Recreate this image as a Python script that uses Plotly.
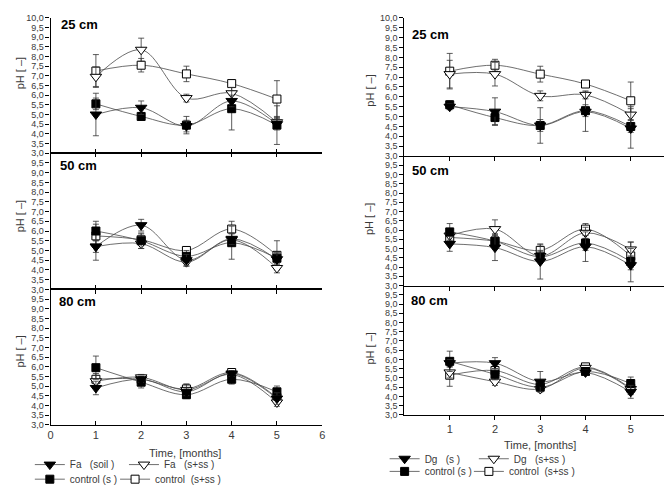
import plotly.graph_objects as go

W, H = 672, 486

months = [1, 2, 3, 4, 5]

# ---- left column (Fa) ----
fa_soil_25 = [5.0, 5.35, 4.4, 5.7, 4.5]
fa_soil_25_err = [1.1, 0.35, 0.3, 0.3, 0.3]
fa_ss_25 = [6.95, 8.35, 5.85, 6.1, 4.6]
fa_ss_25_err = [0.5, 0.6, 0.2, 0.3, 0.3]
ctrl_s_25 = [5.55, 4.9, 4.45, 5.3, 4.45]
ctrl_s_25_err = [0.3, 0.2, 0.45, 1.1, 1.0]
ctrl_ss_25 = [7.25, 7.55, 7.1, 6.6, 5.8]
ctrl_ss_25_err = [0.85, 0.35, 0.4, 0.15, 0.95]

fa_soil_50 = [5.2, 6.3, 4.5, 5.6, 4.55]
fa_soil_50_err = [0.3, 0.3, 0.3, 0.3, 0.3]
fa_ss_50 = [5.2, 5.35, 4.4, 5.55, 4.1]
fa_ss_50_err = [0.7, 0.25, 0.2, 0.3, 0.25]
ctrl_s_50 = [6.0, 5.5, 4.7, 5.4, 4.6]
ctrl_s_50_err = [0.5, 0.4, 0.3, 0.85, 0.3]
ctrl_ss_50 = [5.75, 5.55, 5.0, 6.1, 4.75]
ctrl_ss_50_err = [0.6, 0.3, 0.2, 0.4, 0.75]

fa_soil_80 = [4.9, 5.35, 4.7, 5.65, 4.35]
fa_soil_80_err = [0.35, 0.15, 0.2, 0.15, 0.3]
fa_ss_80 = [5.25, 5.45, 4.8, 5.6, 4.15]
fa_ss_80_err = [0.3, 0.15, 0.3, 0.15, 0.2]
ctrl_s_80 = [5.95, 5.2, 4.55, 5.35, 4.7]
ctrl_s_80_err = [0.6, 0.3, 0.2, 0.25, 0.3]
ctrl_ss_80 = [5.35, 5.35, 4.85, 5.7, 4.4]
ctrl_ss_80_err = [0.3, 0.2, 0.25, 0.15, 0.2]

# ---- right column (Dg) ----
dg_s_25 = [5.5, 5.25, 4.55, 5.25, 4.4]
dg_s_25_err = [0.15, 0.7, 0.3, 1.0, 1.0]
dg_ss_25 = [7.15, 7.15, 6.05, 6.1, 5.1]
dg_ss_25_err = [0.7, 0.6, 0.25, 0.2, 0.4]
ctrl_s_25r = [5.6, 4.95, 4.55, 5.3, 4.5]
ctrl_s_25r_err = [0.2, 0.35, 0.9, 0.3, 0.3]
ctrl_ss_25r = [7.3, 7.6, 7.15, 6.65, 5.8]
ctrl_ss_25r_err = [0.9, 0.3, 0.4, 0.15, 0.95]

dg_s_50 = [5.25, 5.05, 4.3, 5.1, 4.1]
dg_s_50_err = [0.4, 0.7, 0.95, 0.8, 0.9]
dg_ss_50 = [5.7, 6.05, 4.6, 5.85, 4.95]
dg_ss_50_err = [0.3, 0.5, 0.3, 0.3, 0.4]
ctrl_s_50r = [5.9, 5.4, 4.55, 5.3, 4.3]
ctrl_s_50r_err = [0.45, 0.4, 0.3, 0.4, 0.3]
ctrl_ss_50r = [5.6, 5.4, 4.9, 6.05, 4.6]
ctrl_ss_50r_err = [0.3, 0.3, 0.3, 0.3, 0.75]

dg_s_80 = [5.8, 5.8, 4.8, 5.3, 4.25]
dg_s_80_err = [0.2, 0.3, 0.55, 0.15, 0.35]
dg_ss_80 = [5.3, 4.8, 4.4, 5.55, 4.4]
dg_ss_80_err = [0.3, 0.2, 0.15, 0.1, 0.3]
ctrl_s_80r = [5.9, 5.2, 4.5, 5.35, 4.7]
ctrl_s_80r_err = [0.55, 0.3, 0.15, 0.15, 0.35]
ctrl_ss_80r = [5.15, 5.4, 4.65, 5.6, 4.45]
ctrl_ss_80r_err = [0.6, 0.2, 0.2, 0.1, 0.3]

y_tickvals = [3.0 + 0.5 * i for i in range(15)]
y_ticktext = ["3,0", "3,5", "4,0", "4,5", "5,0", "5,5", "6,0", "6,5",
              "7,0", "7,5", "8,0", "8,5", "9,0", "9,5", "10,0"]
depth_labels = ["25 cm", "50 cm", "80 cm"]

NB = "\u00a0"
left_names = ["Fa" + NB * 3 + "(soil )", "Fa" + NB * 3 + "(s+ss )",
              "control" + NB + "(s )", "control" + NB * 2 + "(s+ss )"]
right_names = ["Dg" + NB * 3 + "(s )", "Dg" + NB * 3 + "(s+ss )",
               "control" + NB + "(s )", "control" + NB * 2 + "(s+ss )"]

left_data = [
    [(fa_soil_25, fa_soil_25_err), (fa_ss_25, fa_ss_25_err), (ctrl_s_25, ctrl_s_25_err), (ctrl_ss_25, ctrl_ss_25_err)],
    [(fa_soil_50, fa_soil_50_err), (fa_ss_50, fa_ss_50_err), (ctrl_s_50, ctrl_s_50_err), (ctrl_ss_50, ctrl_ss_50_err)],
    [(fa_soil_80, fa_soil_80_err), (fa_ss_80, fa_ss_80_err), (ctrl_s_80, ctrl_s_80_err), (ctrl_ss_80, ctrl_ss_80_err)],
]
right_data = [
    [(dg_s_25, dg_s_25_err), (dg_ss_25, dg_ss_25_err), (ctrl_s_25r, ctrl_s_25r_err), (ctrl_ss_25r, ctrl_ss_25r_err)],
    [(dg_s_50, dg_s_50_err), (dg_ss_50, dg_ss_50_err), (ctrl_s_50r, ctrl_s_50r_err), (ctrl_ss_50r, ctrl_ss_50r_err)],
    [(dg_s_80, dg_s_80_err), (dg_ss_80, dg_ss_80_err), (ctrl_s_80r, ctrl_s_80r_err), (ctrl_ss_80r, ctrl_ss_80r_err)],
]

FONT = "Liberation Sans, Arial, sans-serif"
TXT = "#3a3a3a"

styles = [
    dict(symbol="triangle-down", size=10, color="black", line=dict(color="black", width=1)),
    dict(symbol="triangle-down", size=10, color="white", line=dict(color="black", width=1)),
    dict(symbol="square", size=8, color="black", line=dict(color="black", width=1)),
    dict(symbol="square", size=8, color="white", line=dict(color="black", width=1)),
]
draw_order = [3, 1, 2, 0]

left_x = (40, 314)
right_x = (397, 671)
left_y = [(5, 144), (144, 284), (284, 423)]
right_y = [(5, 147), (147, 280), (280, 413)]


def px_x(p):
    return p / W


def px_y(p):
    return 1 - p / H


fig = go.Figure()
layout = {}

# legend origin positions (pixel): (x left, y center)
leg_pos_left = [(19, 464), (114, 464), (19, 479), (105, 479)]
leg_pos_right = [(377, 458), (467, 458), (377, 471), (462, 471)]

panel = 0
for col, (data, xr, yrs, names, legpos) in enumerate([
        (left_data, left_x, left_y, left_names, leg_pos_left),
        (right_data, right_x, right_y, right_names, leg_pos_right)]):
    for row in range(3):
        panel += 1
        suffix = "" if panel == 1 else str(panel)
        xa, ya = "x" + suffix, "y" + suffix
        for si in draw_order:
            vals, err = data[row][si]
            leg_idx = col * 4 + si + 1
            lname = "legend" if leg_idx == 1 else "legend%d" % leg_idx
            fig.add_trace(go.Scatter(
                x=months, y=vals, xaxis=xa, yaxis=ya,
                mode="lines+markers",
                name=names[si],
                line=dict(color="#4a4a4a", width=0.8, shape="spline", smoothing=1.0),
                marker=styles[si],
                error_y=dict(type="data", array=err, color="#333", thickness=0.8, width=3),
                showlegend=(row == 0),
                legend=lname,
            ))
        y0, y1 = yrs[row]
        bottom = row == 2
        if col == 0:
            xaxis = dict(
                domain=[px_x(xr[0]), px_x(xr[1])], range=[0, 6], anchor=ya,
                showline=True, linecolor="black", linewidth=1.3,
                ticks="inside", ticklen=4, tickcolor="black", tickwidth=1,
                tickvals=[0, 1, 2, 3, 4, 5, 6] if bottom else [1, 2, 3, 4, 5],
                ticktext=["0", "1", "2", "3", "4", "5", "6"] if bottom else ["1", "2", "3", "4", "5"],
                showticklabels=bottom, mirror="ticks" if row > 0 else False,
                showgrid=False, zeroline=False,
                tickfont=dict(family=FONT, size=11, color=TXT),
            )
        else:
            xaxis = dict(
                domain=[px_x(xr[0]), px_x(xr[1])], range=[0, 6], anchor=ya,
                showline=True, linecolor="black", linewidth=1.3,
                ticks="outside", ticklen=4, tickcolor="black", tickwidth=1,
                tickvals=[1, 2, 3, 4, 5], ticktext=["1", "2", "3", "4", "5"],
                showticklabels=bottom, mirror=False,
                showgrid=False, zeroline=False,
                tickfont=dict(family=FONT, size=11, color=TXT),
            )
        yt = list(y_ticktext)
        if row > 0:
            yt[-1] = ""
        yaxis = dict(
            domain=[px_y(y1), px_y(y0)], range=[3, 10], anchor=xa,
            showline=True, linecolor="black", linewidth=1.3,
            ticks="outside", ticklen=4, tickcolor="black", tickwidth=1,
            tickvals=y_tickvals, ticktext=yt, ticklabeloverflow="allow",
            showgrid=False, zeroline=False,
            tickfont=dict(family=FONT, size=9, color=TXT),
        )
        layout["xaxis" + suffix] = xaxis
        layout["yaxis" + suffix] = yaxis

    for i in range(4):
        leg_idx = col * 4 + i + 1
        lname = "legend" if leg_idx == 1 else "legend%d" % leg_idx
        lx, ly = legpos[i]
        layout[lname] = dict(
            x=px_x(lx), y=px_y(ly), xanchor="left", yanchor="middle",
            bgcolor="rgba(0,0,0,0)", borderwidth=0, itemwidth=30,
            font=dict(family=FONT, size=10, color=TXT),
        )

annotations = []
label_pos = [[(48, 12), (47, 157), (46, 296)], [(403, 22), (403, 162), (402, 295)]]
for col in range(2):
    for row in range(3):
        x, y = label_pos[col][row]
        annotations.append(dict(
            text="<b>%s</b>" % depth_labels[row], xref="paper", yref="paper",
            x=px_x(x), y=px_y(y), xanchor="left", yanchor="middle", showarrow=False,
            font=dict(family=FONT, size=13, color="black")))
ytitle_pos = [[(9, 62), (9, 209), (9, 348)], [(362, 80), (362, 212), (362, 345)]]
for col in range(2):
    for row in range(3):
        x, y = ytitle_pos[col][row]
        annotations.append(dict(
            text="pH [ \u2013]", xref="paper", yref="paper",
            x=px_x(x), y=px_y(y), xanchor="center", yanchor="middle", showarrow=False,
            textangle=-90, font=dict(family=FONT, size=11, color=TXT)))
for (x, y) in [(176, 452), (534, 444)]:
    annotations.append(dict(
        text="Time, [months]", xref="paper", yref="paper",
        x=px_x(x), y=px_y(y), xanchor="center", yanchor="middle", showarrow=False,
        font=dict(family=FONT, size=11, color=TXT)))

fig.update_layout(
    width=W, height=H,
    margin=dict(l=0, r=0, t=0, b=0),
    paper_bgcolor="white", plot_bgcolor="white",
    annotations=annotations,
    font=dict(family=FONT, size=11, color=TXT),
    **layout,
)

fig.write_html("out.html")
